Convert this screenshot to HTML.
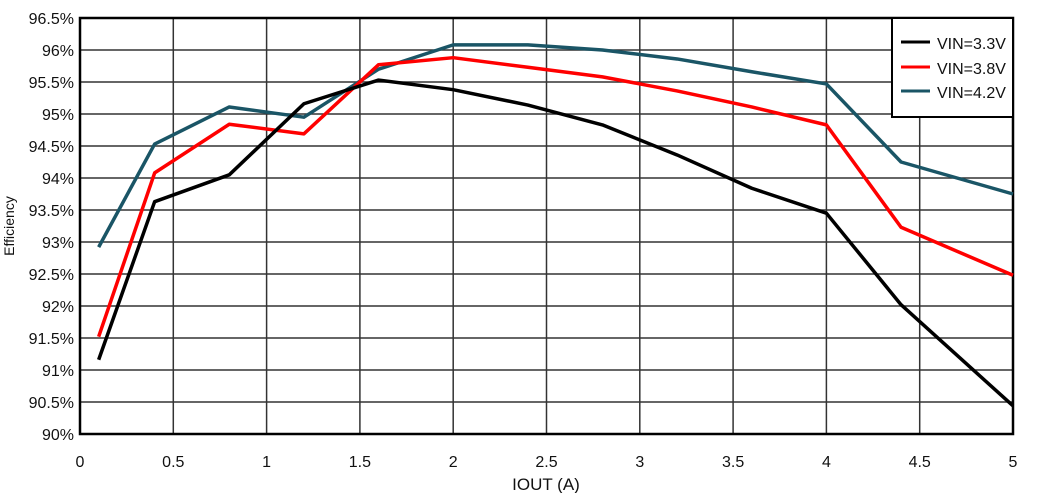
<!DOCTYPE html>
<html><head><meta charset="utf-8"><style>
body{margin:0;background:#fff;}
svg text{font-family:"Liberation Sans",sans-serif;fill:#111;}
</style></head><body>
<svg width="1041" height="493" id="chart">
<g id="grid"></g><g id="series"></g><g id="labels"></g>
<text x="14" y="226" font-size="14" text-anchor="middle" transform="rotate(-90 14 226)">Efficiency</text>
<text x="546" y="490" font-size="17" text-anchor="middle">IOUT (A)</text>
<g>
<rect x="892" y="18" width="121" height="99" fill="#fff" stroke="#000" stroke-width="2"/>
<line x1="901" y1="42" x2="930" y2="42" stroke="#000" stroke-width="3"/>
<text x="937" y="49" font-size="16">VIN=3.3V</text>
<line x1="901" y1="67" x2="930" y2="67" stroke="#ff0000" stroke-width="3"/>
<text x="937" y="74" font-size="16">VIN=3.8V</text>
<line x1="901" y1="91" x2="930" y2="91" stroke="#1a5566" stroke-width="3"/>
<text x="937" y="98" font-size="16">VIN=4.2V</text>
</g>
</svg>
<script>
const xVals=[0.1,0.4,0.8,1.2,1.6,2.0,2.4,2.8,3.2,3.6,4.0,4.4,5.0];
const vin33=[91.16,93.63,94.05,95.16,95.53,95.38,95.14,94.83,94.36,93.84,93.45,92.02,90.44];
const vin38=[91.52,94.08,94.84,94.69,95.77,95.88,95.73,95.58,95.36,95.11,94.83,93.23,92.48];
const vin42=[92.92,94.53,95.11,94.95,95.70,96.08,96.08,96.00,95.86,95.66,95.47,94.25,93.75];
const xTicks=[0,0.5,1,1.5,2,2.5,3,3.5,4,4.5,5];
const yTicks=[90,90.5,91,91.5,92,92.5,93,93.5,94,94.5,95,95.5,96,96.5];
const L=80,R=1013,T=18,B=434;
const xs=v=>L+(v/5)*(R-L);
const ys=v=>B-(v-90)/6.5*(B-T);
const NS='http://www.w3.org/2000/svg';
const grid=document.getElementById('grid'),lab=document.getElementById('labels'),ser=document.getElementById('series');
function mk(tag,attrs,parent){const e=document.createElementNS(NS,tag);for(const k in attrs)e.setAttribute(k,attrs[k]);parent.appendChild(e);return e;}
yTicks.forEach(v=>{
 const l=mk('line',{x1:L,x2:R,y1:ys(v),y2:ys(v),stroke:'#333','stroke-width':1.5},grid);
 
 
 const t=mk('text',{x:L-6,y:ys(v)+6,'font-size':16,'text-anchor':'end'},lab);
 t.textContent=(Math.round(v*10)/10)+'%';
 
 
});
xTicks.forEach(v=>{
 const l=mk('line',{x1:xs(v),x2:xs(v),y1:T,y2:B,stroke:'#333','stroke-width':1.5},grid);
 
 
 const t=mk('text',{x:xs(v),y:B+33,'font-size':16,'text-anchor':'middle'},lab);
 t.textContent=String(v);
 
 
});
const fr=mk('rect',{x:L,y:T,width:R-L,height:B-T,fill:'none',stroke:'#000','stroke-width':2.5},grid);


[[vin42,'#1a5566','series-vin-4-2v'],[vin38,'#ff0000','series-vin-3-8v'],[vin33,'#000','series-vin-3-3v']].forEach(([d,c,n])=>{
 const p=mk('polyline',{points:d.map((v,i)=>xs(xVals[i])+','+ys(v)).join(' '),fill:'none',stroke:c,'stroke-width':3.5,'stroke-linejoin':'round'},ser);
 
 
});
</script>
</body></html>
